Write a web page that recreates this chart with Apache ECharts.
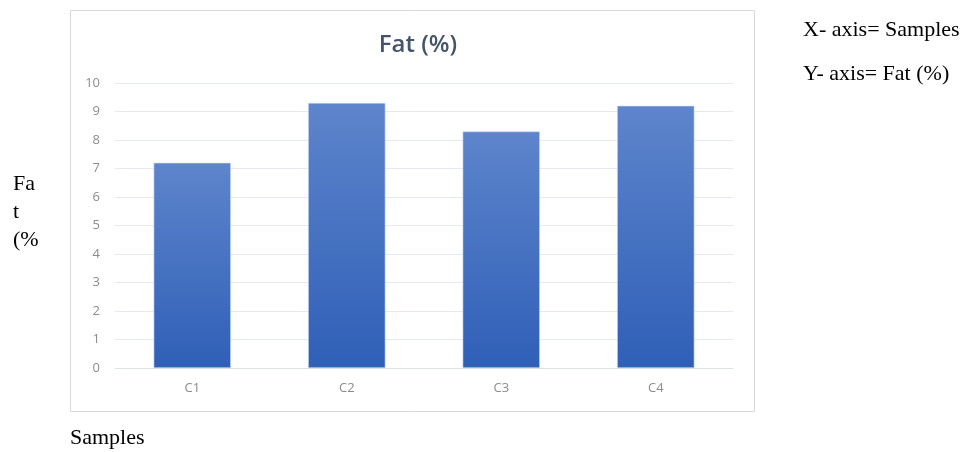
<!DOCTYPE html>
<html>
<head>
<meta charset="utf-8">
<script src="https://cdn.jsdelivr.net/npm/echarts@6/dist/echarts.min.js"></script>
<style>
  html, body { margin: 0; padding: 0; background: #ffffff; }
  #chart { width: 967px; height: 452px; }
</style>
</head>
<body>
<div id="chart"></div>
<script>
// Fat content per sample
const categories = ['C1', 'C2', 'C3', 'C4'];
const fatValues = [7.2, 9.3, 8.3, 9.2];
const yTicks = { min: 0, max: 10, interval: 1 };

const chart = echarts.init(document.getElementById('chart'), null, { renderer: 'canvas' });

const serif = '"Liberation Serif", "Times New Roman", serif';
const sans = '"Open Sans", "Noto Sans", sans-serif';

chart.setOption({
  backgroundColor: '#ffffff',
  animation: false,
  title: {
    text: 'Fat (%)',
    left: 413,
    top: 28,
    textAlign: 'center',
    textStyle: {
      fontFamily: sans,
      fontSize: 24,
      fontWeight: 600,
      color: '#44546a'
    }
  },
  grid: { left: 115, right: 234, top: 83, bottom: 84 },
  xAxis: {
    type: 'category',
    data: categories,
    axisLine: { show: true, lineStyle: { color: '#dde1e8', width: 1 } },
    axisTick: { show: false },
    axisLabel: {
      color: '#8c8c8c',
      fontSize: 13,
      fontFamily: sans,
      margin: 14
    }
  },
  yAxis: {
    type: 'value',
    min: yTicks.min,
    max: yTicks.max,
    interval: yTicks.interval,
    axisLine: { show: false },
    axisTick: { show: false },
    splitLine: { lineStyle: { color: '#e6e9ef', width: 1 } },
    axisLabel: {
      color: '#8c8c8c',
      fontSize: 13,
      fontFamily: sans,
      margin: 15
    }
  },
  series: [{
    type: 'bar',
    data: fatValues,
    barWidth: '50%',
    itemStyle: {
      color: new echarts.graphic.LinearGradient(0, 0, 0, 1, [
        { offset: 0, color: '#5e85cc' },
        { offset: 1, color: '#2f5fb7' }
      ]),
      borderColor: '#c9d6ee',
      borderWidth: 0.6
    }
  }],
  graphic: [
    {
      type: 'rect',
      shape: { x: 70.5, y: 10.5, width: 684, height: 401 },
      style: { fill: 'none', stroke: '#d9d9d9', lineWidth: 1 },
      z: -1
    },
    {
      type: 'text', left: 803, top: 19,
      style: { text: 'X- axis= Samples', font: '22px ' + serif, fill: '#000000' }
    },
    {
      type: 'text', left: 803, top: 63,
      style: { text: 'Y- axis= Fat (%)', font: '22px ' + serif, fill: '#000000' }
    },
    {
      type: 'text', left: 13, top: 173,
      style: { text: 'Fa', font: '22px ' + serif, fill: '#000000' }
    },
    {
      type: 'text', left: 13, top: 201,
      style: { text: 't', font: '22px ' + serif, fill: '#000000' }
    },
    {
      type: 'text', left: 13, top: 229,
      style: { text: '(%', font: '22px ' + serif, fill: '#000000' }
    },
    {
      type: 'text', left: 70, top: 427,
      style: { text: 'Samples', font: '22px ' + serif, fill: '#000000' }
    }
  ]
});
</script>
</body>
</html>
